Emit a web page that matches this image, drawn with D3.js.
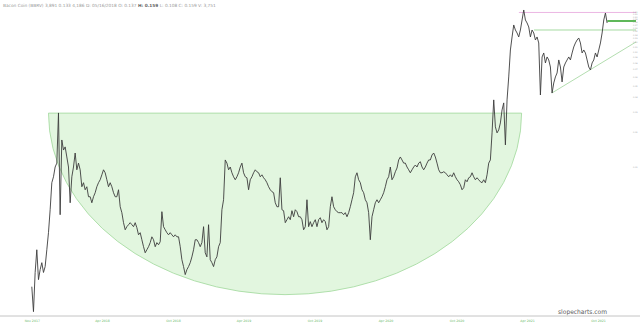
<!DOCTYPE html>
<html>
<head>
<meta charset="utf-8">
<script src="https://cdn.jsdelivr.net/npm/d3@7"></script>
<style>
  html, body { margin: 0; padding: 0; background: #fff; }
  svg { display: block; font-family: "DejaVu Sans", sans-serif; }
</style>
</head>
<body>
<div id="chart"></div>
<script>
// header line (ticker + hovered bar)
const headerMain = "Bacon Coin (BBRV) 3,891 0.133 4,186 D: 05/16/2018 O: 0.137 ";
const headerBold = "H: 0.159";
const headerTail = " L: 0.108 C: 0.159 V: 3,751";

// price series: one value every stepDays from seriesStart
const seriesStart = "2017-10-02";
const stepDays = 4.3;
const prices = [
  0.000903, 0.000548, 0.00120, 0.00189, 0.00104, 0.00127, 0.00146, 0.00120, 0.00135, 0.00189,
  0.00266, 0.00421, 0.00723, 0.00814, 0.00990, 0.0107, 0.0292, 0.00381, 0.0170, 0.0139,
  0.0148, 0.0121, 0.00990, 0.00484, 0.00814, 0.00990, 0.0131, 0.00936, 0.0107, 0.00936,
  0.00667, 0.00723, 0.00628, 0.00667, 0.00546, 0.00546, 0.00484, 0.00546, 0.00592, 0.00667,
  0.00723, 0.00767, 0.00847, 0.00936, 0.00882, 0.00767, 0.00667, 0.00723, 0.00667, 0.00592,
  0.00546, 0.00546, 0.00628, 0.00447, 0.00397, 0.00325, 0.00282, 0.00300, 0.00312, 0.00325,
  0.00312, 0.00300, 0.00325, 0.00294, 0.00255, 0.00266, 0.00231, 0.00201, 0.00178, 0.00189,
  0.00201, 0.00218, 0.00245, 0.00231, 0.00201, 0.00218, 0.00209, 0.00222, 0.00405, 0.00300,
  0.00282, 0.00266, 0.00255, 0.00266, 0.00255, 0.00245, 0.00255, 0.00245, 0.00245, 0.00201,
  0.00155, 0.00135, 0.00115, 0.00127, 0.00135, 0.00146, 0.00164, 0.00189, 0.00231, 0.00231,
  0.00218, 0.00201, 0.00218, 0.00300, 0.00178, 0.00164, 0.00312, 0.00155, 0.00146, 0.00135,
  0.00155, 0.00164, 0.00201, 0.00218, 0.00421, 0.00514, 0.0114, 0.0107, 0.00936, 0.00990,
  0.00882, 0.00814, 0.00767, 0.00814, 0.00882, 0.00990, 0.0107, 0.00882, 0.00814, 0.00798,
  0.00628, 0.00767, 0.00814, 0.00882, 0.00936, 0.00900, 0.00882, 0.00814, 0.00847, 0.00798,
  0.00767, 0.00723, 0.00667, 0.00628, 0.00604, 0.00592, 0.00484, 0.00447, 0.00447, 0.00798,
  0.00421, 0.00413, 0.00325, 0.00345, 0.00366, 0.00345, 0.00413, 0.00366, 0.00421, 0.00405,
  0.00366, 0.00366, 0.00345, 0.00282, 0.00300, 0.00514, 0.00300,
  0.00332, 0.00300, 0.00325, 0.00345, 0.00300, 0.00345, 0.00359, 0.00325, 0.00345, 0.00332,
  0.00282, 0.00300, 0.00447, 0.00546, 0.00447, 0.00421, 0.00405, 0.00397, 0.00397, 0.00397,
  0.00381, 0.00397, 0.00366, 0.00397, 0.00447, 0.00514, 0.00592, 0.00814, 0.00882, 0.00767,
  0.00723, 0.00628, 0.00592, 0.00514, 0.00484, 0.00397, 0.00231, 0.00366, 0.00421, 0.00484,
  0.00514, 0.00484, 0.00514, 0.00546, 0.00592, 0.00667, 0.00767, 0.00814, 0.00990, 0.00767,
  0.00814, 0.00900, 0.00970, 0.0114, 0.0121, 0.0114, 0.0107, 0.0107, 0.00990, 0.00936,
  0.00882, 0.00936, 0.00990, 0.0103, 0.00990, 0.0107, 0.0110, 0.00990, 0.00936, 0.00990,
  0.0107, 0.0114, 0.0114, 0.0126, 0.0131, 0.0121, 0.0107, 0.00936, 0.00882, 0.00882,
  0.00900, 0.00882, 0.00847, 0.00814, 0.00847, 0.00814, 0.00882, 0.00814, 0.00767, 0.00737,
  0.00694, 0.00628, 0.00654, 0.00767, 0.00737, 0.00798, 0.00814, 0.00882, 0.00814, 0.00767,
  0.00798, 0.00767, 0.00737, 0.00723, 0.00767, 0.00723, 0.00847, 0.0107, 0.0114, 0.0196,
  0.0379, 0.0221, 0.0196, 0.0208, 0.0239, 0.0310, 0.0357, 0.0154, 0.0379, 0.0600,
  0.1029, 0.1335, 0.1697, 0.1535, 0.1446, 0.1335, 0.1535, 0.1875, 0.2290, 0.1875,
  0.1766, 0.1631, 0.1335, 0.1535, 0.1446, 0.1257, 0.1335, 0.1184, 0.0418, 0.0895,
  0.0969, 0.0794, 0.0895, 0.0843, 0.0732, 0.0435, 0.0532, 0.0600, 0.0650, 0.0843,
  0.0732, 0.0543, 0.0732, 0.0794, 0.0843, 0.0895, 0.0843, 0.0969, 0.1093, 0.1184,
  0.1257, 0.1308, 0.1184, 0.0969, 0.1029, 0.0969, 0.0843, 0.0732, 0.0690, 0.0794,
  0.0843, 0.0969, 0.0895, 0.1029, 0.1184, 0.1446, 0.1875, 0.2157, 0.1766
];

// x axis ticks
const xTickDates = ["2017-10-02", "2018-04-01", "2018-10-01", "2019-04-01", "2019-10-01",
                    "2020-04-01", "2020-10-01", "2021-04-01", "2021-10-01"];
const xTickLabels = ["Nov 2017", "Apr 2018", "Oct 2018", "Apr 2019", "Oct 2019",
                     "Apr 2020", "Oct 2020", "Apr 2021", "Oct 2021"];

// y axis ticks (log scale)
const yTickValues = [0.22, 0.21, 0.20, 0.19, 0.18, 0.17, 0.16, 0.15, 0.14, 0.13, 0.12,
                     0.11, 0.10, 0.09, 0.08, 0.07, 0.06, 0.05, 0.04, 0.03, 0.02, 0.01];

// cup drawing
const cupStart = "2017-11-14";
const cupEnd = "2021-03-18";
const cupRim = 0.0291;
const cupBottom = 0.00077;

// horizontal levels
const levelStarts = ["2021-03-11", "2021-10-25", "2021-04-19"];
const levelPrices = [0.218, 0.1838, 0.1535];
const levelEnd = "2022-01-07";

// rising trendline
const trendDates = ["2021-06-04", "2022-01-07"];
const trendPrices = [0.0435, 0.1208];

const W = 640, H = 327;
const parse = d3.timeParse("%Y-%m-%d");

const svg = d3.select("#chart")
  .append("svg")
  .attr("width", W)
  .attr("height", H);

const x = d3.scaleTime()
  .domain([parse("2018-04-01"), parse("2021-10-01")])
  .range([102, 598]);

const y = d3.scaleLog()
  .domain([0.01, 0.22])
  .range([166.5, 12]);

const t0 = parse(seriesStart);
const dateAt = i => new Date(t0.getTime() + i * stepDays * 864e5);

// --- cup (half ellipse under the rim) ---
const cx0 = x(parse(cupStart)), cx1 = x(parse(cupEnd));
const yRim = y(cupRim), yBot = y(cupBottom);
svg.append("path")
  .attr("d", `M${cx0},${yRim} A${(cx1 - cx0) / 2},${yBot - yRim} 0 0 0 ${cx1},${yRim} Z`)
  .attr("fill", "#e2f6df")
  .attr("stroke", "#9fd89a")
  .attr("stroke-width", 0.8);

// --- levels ---
const levelColors = ["#e6a3dc", "#5fb85a", "#8fd08a"];
const levelWidths = [0.8, 2, 0.8];
svg.selectAll("line.level")
  .data(levelPrices)
  .join("line")
  .attr("class", "level")
  .attr("x1", (d, i) => x(parse(levelStarts[i])))
  .attr("x2", x(parse(levelEnd)))
  .attr("y1", d => y(d))
  .attr("y2", d => y(d))
  .attr("stroke", (d, i) => levelColors[i])
  .attr("stroke-width", (d, i) => levelWidths[i]);

svg.append("line")
  .attr("x1", x(parse(trendDates[0])))
  .attr("y1", y(trendPrices[0]))
  .attr("x2", x(parse(trendDates[1])))
  .attr("y2", y(trendPrices[1]))
  .attr("stroke", "#9fd49a")
  .attr("stroke-width", 0.8);

// --- price line ---
const line = d3.line()
  .x((d, i) => x(dateAt(i)))
  .y(d => y(d));

svg.append("path")
  .datum(prices)
  .attr("d", line)
  .attr("fill", "none")
  .attr("stroke", "#3c3c3c")
  .attr("stroke-width", 0.9)
  .attr("stroke-linejoin", "round");

// --- right axis labels (tiny, packed tight at the top of the log scale) ---
const yAxisG = svg.append("g")
  .attr("transform", "translate(632,0)")
  .call(d3.axisRight(y).tickValues(yTickValues).tickFormat(d3.format(".2f")).tickSize(0).tickPadding(1));
yAxisG.select(".domain").remove();
yAxisG.selectAll("text")
  .attr("font-size", 2)
  .attr("font-family", "DejaVu Sans, sans-serif")
  .attr("fill", "#999");

// --- bottom axis ---
svg.append("line")
  .attr("x1", 0).attr("x2", W)
  .attr("y1", 316).attr("y2", 316)
  .attr("stroke", "#c4c4c4")
  .attr("stroke-width", 1);

const xAxisG = svg.append("g")
  .attr("transform", "translate(0,316)")
  .call(d3.axisBottom(x)
    .tickValues(xTickDates.map(parse))
    .tickFormat((d, i) => xTickLabels[i])
    .tickSize(0)
    .tickPadding(4));
xAxisG.select(".domain").remove();
xAxisG.selectAll("text")
  .attr("font-size", 3.2)
  .attr("font-family", "DejaVu Sans, sans-serif")
  .attr("fill", "#6dbb6d");

// --- header ---
const header = svg.append("text")
  .attr("x", 3)
  .attr("y", 7)
  .attr("font-size", 4.3)
  .attr("fill", "#999");
header.append("tspan").text(headerMain);
header.append("tspan").attr("font-weight", "bold").attr("fill", "#666").text(headerBold);
header.append("tspan").text(headerTail);

// --- watermark ---
svg.append("text")
  .attr("x", 558)
  .attr("y", 313.5)
  .attr("font-size", 6.4)
  .attr("textLength", 49)
  .attr("lengthAdjust", "spacingAndGlyphs")
  .attr("fill", "#5a5a5a")
  .text("slopecharts.com");
</script>
</body>
</html>
